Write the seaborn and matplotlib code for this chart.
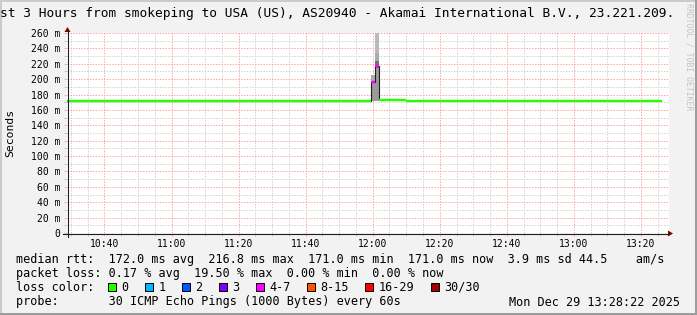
import numpy as np
import pandas as pd
import matplotlib
matplotlib.use("Agg")
import matplotlib.pyplot as plt
import matplotlib.dates as mdates
from matplotlib.ticker import MultipleLocator, FuncFormatter
from matplotlib.lines import Line2D
from matplotlib.patches import Polygon, Rectangle
import seaborn as sns

# ---------------- data ----------------
DAY = "2025-12-29 "
# median rtt, drawn as steps: interval edges and the value in each interval (ms)
step_edges = ["10:28:22", "11:59:30", "12:00:45", "12:02:00", "12:10:00", "13:26:20"]
step_median_ms = [172.0, 195.8, 216.8, 172.8, 171.0]
step_lost_pings = [0, 4, 6, 0, 0]

# smoke (spread of single pings) for the spike intervals
smoke_start = ["11:59:30", "11:59:30", "12:00:45", "12:00:45", "12:00:45", "12:00:45"]
smoke_end = ["12:00:45", "12:00:45", "12:02:00", "12:02:00", "12:02:00", "12:02:00"]
smoke_low_ms = [172.0, 195.0, 172.0, 215.0, 223.0, 234.0]
smoke_high_ms = [195.0, 206.0, 215.0, 223.0, 234.0, 300.0]
smoke_depth = [1, 2, 1, 0, 2, 3]  # 0 = band next to the median

loss_labels = ["0", "1", "2", "3", "4-7", "8-15", "16-29", "30/30"]
loss_colors = ["#26ff00", "#00b8ff", "#0059ff", "#7e00ff", "#ff00ff", "#ff5500", "#ff0000", "#a00000"]

y_ticks_ms = list(range(0, 261, 20))
x_start, x_end = "10:28:50", "13:28:22"

title = "st 3 Hours from smokeping to USA (US), AS20940 - Akamai International B.V., 23.221.209."
row_rtt = "median rtt:  172.0 ms avg  216.8 ms max  171.0 ms min  171.0 ms now  3.9 ms sd 44.5    am/s"
row_loss = "packet loss: 0.17 % avg  19.50 % max  0.00 % min  0.00 % now"
row_probe = "probe:       30 ICMP Echo Pings (1000 Bytes) every 60s"
stamp = "Mon Dec 29 13:28:22 2025"
watermark = "RRDTOOL / TOBI OETIKER"

# ---------------- helpers ----------------
def loss_class(n):
    if n <= 3:
        return loss_labels[n]
    if n <= 7:
        return "4-7"
    if n <= 15:
        return "8-15"
    if n <= 29:
        return "16-29"
    return "30/30"

def ts(t):
    return pd.Timestamp(DAY + t)

W, H = 697, 315
BACK = "#f2f2f2"
MONO = "DejaVu Sans Mono"

fig = plt.figure(figsize=(W / 100, H / 100), dpi=100, facecolor=BACK)
L, R, T, B = 67, 669, 33, 233
ax = fig.add_axes([L / W, 1 - B / H, (R - L) / W, (B - T) / H])
ax.set_facecolor("white")

def fx(x):
    return x / W

def fy(y):
    return 1 - y / H

# ---------------- smoke ----------------
shade = {0: "#747474", 1: "#9a9a9a", 2: "#ababab", 3: "#bababa"}
for s, e, lo, hi, d in zip(smoke_start, smoke_end, smoke_low_ms, smoke_high_ms, smoke_depth):
    ax.fill_between([ts(s), ts(e)], [lo, lo], [hi, hi], color=shade[d], lw=0, zorder=2)

# ---------------- median ----------------
edges = [ts(t) for t in step_edges]
# dark connecting step line around the lossy intervals
ax.plot(edges[:4], step_median_ms[:4], drawstyle="steps-post",
        color="#202020", lw=0.8, zorder=3)

rows = []
for i, (v, n) in enumerate(zip(step_median_ms, step_lost_pings)):
    cls = loss_class(n)
    rows.append({"time": edges[i], "rtt": v, "seg": i, "loss": cls})
    rows.append({"time": edges[i + 1], "rtt": v, "seg": i, "loss": cls})
df = pd.DataFrame(rows)
palette = dict(zip(loss_labels, loss_colors))
sns.lineplot(data=df, x="time", y="rtt", hue="loss", units="seg", estimator=None,
             palette={k: palette[k] for k in df["loss"].unique()}, linewidth=1.7,
             legend=False, ax=ax, zorder=4, solid_capstyle="butt")

# ---------------- axes ----------------
ax.set_xlim(ts(x_start), ts(x_end))
ax.set_ylim(0, 260)
ax.set_xlabel("")
ax.set_ylabel("")
ax.xaxis.set_major_locator(mdates.MinuteLocator(byminute=[0, 20, 40]))
ax.xaxis.set_minor_locator(mdates.MinuteLocator(byminute=range(0, 60, 5)))
ax.xaxis.set_major_formatter(mdates.DateFormatter("%H:%M"))
ax.set_yticks(y_ticks_ms)
ax.yaxis.set_minor_locator(MultipleLocator(10))
ax.yaxis.set_major_formatter(FuncFormatter(lambda v, p: "0" if v == 0 else f"{v:.0f} m"))

ax.set_axisbelow(True)
dot = (0, (1.4, 1.4))
ax.grid(which="major", color="#ffa3a3", linestyle=dot, linewidth=0.72)
ax.grid(which="minor", color="#d2d2d2", linestyle=dot, linewidth=0.72)
for sp in ax.spines.values():
    sp.set_visible(False)
ax.tick_params(which="both", length=2, width=0.72, color="#c8c8c8",
               labelsize=7.05, pad=3)
ax.tick_params(axis="x", which="major", pad=2)
for lab in ax.get_xticklabels() + ax.get_yticklabels():
    lab.set_fontfamily(MONO)

# axis lines with arrows (rrdtool style)
axis_col = "#202020"
arrow_col = "#800000"
fig.add_artist(Line2D([fx(63), fx(669)], [fy(233.5), fy(233.5)], color=axis_col, lw=0.8))
fig.add_artist(Line2D([fx(67.5), fx(67.5)], [fy(237), fy(31)], color=axis_col, lw=0.8))
fig.add_artist(Polygon([[fx(673), fy(233.5)], [fx(668), fy(230.5)], [fx(668), fy(236.5)]],
                       closed=True, color=arrow_col, lw=0))
fig.add_artist(Polygon([[fx(67.5), fy(27)], [fx(64.5), fy(32)], [fx(70.5), fy(32)]],
                       closed=True, color=arrow_col, lw=0))

# ---------------- texts ----------------
fig.text(fx(10.5), fy(133), "Seconds", rotation=90, ha="center", va="center",
         fontsize=8.2, family=MONO, color="black")
fig.text(fx(689), fy(3), watermark, rotation=270, ha="center", va="top",
         fontsize=5.9, family=MONO, color="#c4c4c4")
fig.text(fx(0), fy(13), title, ha="left", va="center", fontsize=9.3, family=MONO, color="black")

LX = 16.4
fs_leg = 8.5
fig.text(fx(LX), fy(259), row_rtt, ha="left", va="center", fontsize=fs_leg, family=MONO)
fig.text(fx(LX), fy(273), row_loss, ha="left", va="center", fontsize=fs_leg, family=MONO)
fig.text(fx(LX), fy(287.5), "loss color:", ha="left", va="center", fontsize=fs_leg, family=MONO)
fig.text(fx(LX), fy(302), row_probe, ha="left", va="center", fontsize=fs_leg, family=MONO)
fig.text(fx(680), fy(302), stamp, ha="right", va="center", fontsize=fs_leg, family=MONO)

cw = 7.1
x = 108.0
for lab, col in zip(loss_labels, loss_colors):
    fig.add_artist(Rectangle((fx(x), fy(291)), 8 / W, 8 / H, facecolor=col,
                             edgecolor="black", lw=0.7))
    fig.text(fx(x + 13.5), fy(287.5), lab, ha="left", va="center", fontsize=fs_leg, family=MONO)
    x = x + 13.5 + len(lab) * cw + 16.4

# 3D frame
fig.add_artist(Rectangle((0, 0), 2 / W, 1, facecolor="#cbcbcb", lw=0))
fig.add_artist(Rectangle((0, 1 - 2 / H), 1, 2 / H, facecolor="#cbcbcb", lw=0))
fig.add_artist(Rectangle((1 - 2 / W, 0), 2 / W, 1, facecolor="#9c9c9c", lw=0))
fig.add_artist(Rectangle((0, 0), 1, 2 / H, facecolor="#9c9c9c", lw=0))

fig.savefig("out.png", dpi=100, facecolor=BACK)
